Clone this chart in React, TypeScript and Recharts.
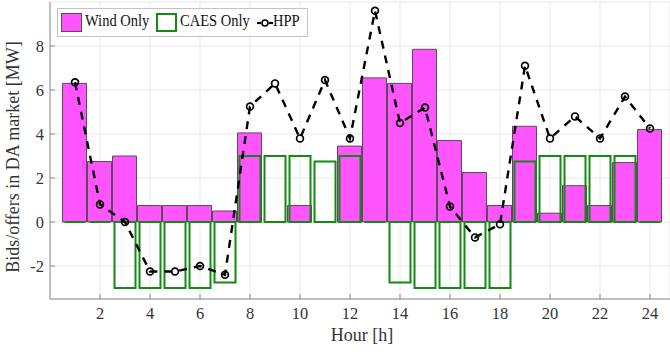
import React from "react";
import {
  ComposedChart,
  Bar,
  Line,
  XAxis,
  YAxis,
  CartesianGrid,
} from "recharts";

// hourly day-ahead bids/offers [MW]
const hours = [1, 2, 3, 4, 5, 6, 7, 8, 9, 10, 11, 12, 13, 14, 15, 16, 17, 18, 19, 20, 21, 22, 23, 24];
const windOnly = [6.3, 2.75, 3.0, 0.75, 0.75, 0.75, 0.5, 4.05, 0, 0.75, 0, 3.45, 6.55, 6.3, 7.85, 3.7, 2.25, 0.75, 4.35, 0.4, 1.65, 0.75, 2.7, 4.2];
const caesOnly = [0, 0, -3, -3, -3, -3, -2.75, 3, 3, 3, 2.75, 3, 0, -2.75, -3, -3, -3, -3, 2.75, 3, 3, 3, 3, 0];
const hpp = [6.35, 0.8, 0, -2.25, -2.25, -2.0, -2.4, 5.25, 6.3, 3.8, 6.45, 3.8, 9.6, 4.5, 5.2, 0.7, -0.7, -0.1, 7.1, 3.8, 4.8, 3.8, 5.7, 4.25];

const xTicks = [2, 4, 6, 8, 10, 12, 14, 16, 18, 20, 22, 24];
const yTicks = [-2, 0, 2, 4, 6, 8];

const data = hours.map((h, i) => ({
  hour: h,
  wind: windOnly[i],
  caes: caesOnly[i],
  hpp: hpp[i],
}));

const FONT = "'Liberation Serif', 'Times New Roman', serif";
const AXIS = "#8c8c8c";
const TEXT = "#333333";
const MAGENTA = "#ff55ff";
const GREEN = "#138a13";

// bars drawn as paths so zero-height CAES bars still show their edge on the 0 line
const WindShape = (p: any) => {
  const top = Math.min(p.y, p.y + p.height);
  const h = Math.abs(p.height);
  if (!h) return null;
  return (
    <path
      d={`M${p.x},${top}h${p.width}v${h}h${-p.width}Z`}
      fill={MAGENTA}
      stroke="#5a4a5a"
      strokeWidth={1}
    />
  );
};

const CaesShape = (p: any) => {
  const top = Math.min(p.y, p.y + p.height);
  const h = Math.abs(p.height);
  return (
    <path
      d={`M${p.x},${top}h${p.width}v${h}h${-p.width}Z`}
      fill="none"
      stroke={GREEN}
      strokeWidth={2}
    />
  );
};

const HppDot = (p: any) => (
  <circle
    key={`d${p.index}`}
    cx={p.cx}
    cy={p.cy}
    r={3.4}
    fill="none"
    stroke="#000"
    strokeWidth={1.7}
  />
);

// serif labels are a little condensed
const Label = ({ x, y, anchor, children }: any) => (
  <text
    transform={`translate(${x} ${y}) scale(0.94 1)`}
    textAnchor={anchor}
    fontFamily={FONT}
    fontSize={17.5}
    fill={TEXT}
  >
    {children}
  </text>
);

const BottomTick = ({ x, y, payload }: any) => (
  <g>
    <line x1={x} x2={x} y1={y} y2={y - 5} stroke={AXIS} />
    <Label x={x} y={y + 20} anchor="middle">{payload.value}</Label>
  </g>
);

const TopTick = ({ x, y }: any) => (
  <line x1={x} x2={x} y1={y} y2={y + 5} stroke={AXIS} />
);

const LeftTick = ({ x, y, payload }: any) => (
  <g>
    <line x1={x} x2={x + 5} y1={y} y2={y} stroke={AXIS} />
    <Label x={x - 6} y={y + 6} anchor="end">{payload.value}</Label>
  </g>
);

const XLabel = () => (
  <text x={362} y={341} textAnchor="middle" fontFamily={FONT} fontSize={18} fill={TEXT}>
    Hour [h]
  </text>
);

const YLabel = () => (
  <text
    x={13}
    y={157}
    transform="rotate(-90 13 157)"
    textAnchor="middle"
    dominantBaseline="central"
    fontFamily={FONT}
    fontSize={18}
    fill={TEXT}
  >
    Bids/offers in DA market [MW]
  </text>
);

const legendText: React.CSSProperties = {
  position: "absolute",
  top: 2,
  fontFamily: FONT,
  fontSize: 16.5,
  color: "#111",
  whiteSpace: "nowrap",
  transform: "scaleX(0.88)",
  transformOrigin: "left center",
};

function ChartLegend() {
  return (
    <div
      style={{
        position: "absolute",
        left: 57,
        top: 8,
        width: 251,
        height: 29,
        background: "#fff",
        border: "1px solid #c4c4c4",
        boxSizing: "border-box",
      }}
    >
      <div
        style={{
          position: "absolute",
          left: 3,
          top: 4,
          width: 21,
          height: 19,
          background: MAGENTA,
          border: "1px solid #5a4a5a",
          boxSizing: "border-box",
        }}
      />
      <span style={{ ...legendText, left: 27 }}>Wind Only</span>
      <div
        style={{
          position: "absolute",
          left: 98,
          top: 4,
          width: 21,
          height: 19,
          border: `2px solid ${GREEN}`,
          boxSizing: "border-box",
        }}
      />
      <span style={{ ...legendText, left: 122 }}>CAES Only</span>
      <svg style={{ position: "absolute", left: 199, top: 8 }} width={16} height={12}>
        <line x1={0} x2={4} y1={6} y2={6} stroke="#000" strokeWidth={2.2} />
        <circle cx={8} cy={6} r={3} fill="none" stroke="#000" strokeWidth={1.6} />
        <line x1={12} x2={16} y1={6} y2={6} stroke="#000" strokeWidth={2.2} />
      </svg>
      <span style={{ ...legendText, left: 215 }}>HPP</span>
    </div>
  );
}

export default function App() {
  return (
    <div style={{ position: "absolute", left: 0, top: 0, width: 670, height: 352, background: "#fff" }}>
      <ComposedChart
        width={670}
        height={352}
        data={data}
        margin={{ top: 2, right: 0, bottom: 0, left: 0 }}
      >
        <CartesianGrid stroke="#e8e8e8" strokeWidth={1} />
        <XAxis
          dataKey="hour"
          type="number"
          domain={[0, 24.8]}
          ticks={xTicks}
          interval={0}
          height={53}
          stroke={AXIS}
          tickSize={0}
          tickMargin={0}
          tick={<BottomTick />}
          label={<XLabel />}
        />
        <XAxis
          xAxisId="c"
          dataKey="hour"
          type="number"
          domain={[0, 24.8]}
          hide
        />
        <XAxis
          xAxisId="top"
          orientation="top"
          dataKey="hour"
          type="number"
          domain={[0, 24.8]}
          ticks={xTicks}
          interval={0}
          height={0}
          stroke={AXIS}
          tickSize={0}
          tickMargin={0}
          tick={<TopTick />}
        />
        <YAxis
          type="number"
          domain={[-3.5, 10]}
          ticks={yTicks}
          interval={0}
          width={50}
          stroke={AXIS}
          tickSize={0}
          tickMargin={0}
          tick={<LeftTick />}
          label={<YLabel />}
        />
        <Bar dataKey="wind" barSize={24} shape={WindShape} isAnimationActive={false} />
        <Bar xAxisId="c" dataKey="caes" barSize={21} shape={CaesShape} isAnimationActive={false} />
        <Line
          dataKey="hpp"
          type="linear"
          stroke="#000"
          strokeWidth={2.4}
          strokeDasharray="8 7"
          dot={HppDot}
          activeDot={false}
          isAnimationActive={false}
        />
      </ComposedChart>
      <ChartLegend />
    </div>
  );
}
